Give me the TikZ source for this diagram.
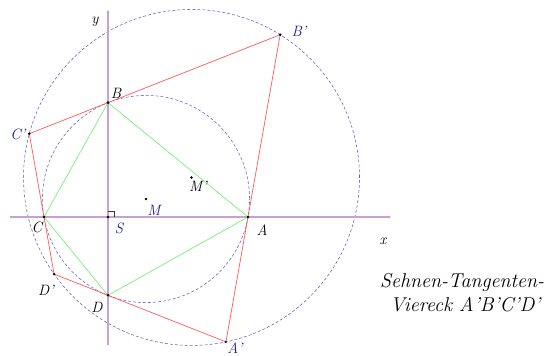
\documentclass[tikz,border=0pt]{standalone}
\usetikzlibrary{arrows.meta}
\definecolor{axcol}{HTML}{C8A0D2}
\definecolor{circcol}{HTML}{6464BE}
\definecolor{redl}{HTML}{FF5A5A}
\definecolor{greenl}{HTML}{78F078}
\definecolor{navyl}{HTML}{1C1C8C}
\tikzset{
  axis/.style={draw=axcol,line width=1.4pt,-{Stealth[length=3pt,width=3pt]}},
  circ/.style={draw=circcol,line width=0.55pt,dash pattern=on 3pt off 2pt},
  tang/.style={draw=redl,line width=0.7pt},
  chord/.style={draw=greenl,line width=0.7pt},
  pt/.style={circle,fill=#1,inner sep=0pt,minimum size=2.8pt},
  pt/.default=black,
  lbl/.style={font=\fontsize{15}{16}\selectfont\itshape,inner sep=0pt},
  title/.style={font=\fontsize{20}{22}\selectfont\itshape,inner sep=0pt,align=left}
}
\begin{document}
\begin{tikzpicture}[x=1pt,y=1pt]
\useasboundingbox (-108,-139) rectangle (452,217);
% points
\coordinate (S) at (0,0);
\coordinate (A) at (140,0);
\coordinate (B) at (0,114.35);
\coordinate (C) at (-64,0);
\coordinate (D) at (0,-78.35);
\coordinate (M) at (38,18);
\coordinate (Mp) at (83.52,39.55);
\coordinate (Ap) at (117.96,-124.88);
\coordinate (Bp) at (172.16,182.26);
\coordinate (Cp) at (-78.7,83.32);
\coordinate (Dp) at (-53.92,-57.09);
\coordinate (xs) at (-98,0);
\coordinate (xe) at (283,0);
\coordinate (ys) at (0,-128);
\coordinate (ye) at (0,207);
% circles
\draw[circ] (M) circle[radius=103.58];
\draw[circ] (Mp) circle[radius=168.0];
% axes
\draw[axis] (xs) -- (xe);
\draw[axis] (ys) -- (ye);
% right angle
\draw[black!80,line width=0.5pt] (0,6) -- (6,6) -- (6,0);
% quadrilaterals
\draw[chord] (A) -- (B) -- (C) -- (D) -- cycle;
\draw[tang] (Ap) -- (Bp) -- (Cp) -- (Dp) -- cycle;
% dots
\node[pt] (nS) at (S) {};
\node[pt] (nA) at (A) {};
\node[pt] (nB) at (B) {};
\node[pt] (nC) at (C) {};
\node[pt] (nD) at (D) {};
\node[pt] (nM) at (M) {};
\node[pt] (nMp) at (Mp) {};
\node[pt=navyl] (nAp) at (Ap) {};
\node[pt] (nBp) at (Bp) {};
\node[pt] (nCp) at (Cp) {};
\node[pt] (nDp) at (Dp) {};
% labels
\node[lbl] (ly) at (-13,195) {y};
\node[lbl] (lx) at (275,-24) {x};
\node[lbl] (lB) at (8,124) {B};
\node[lbl,text=navyl] (lBp) at (191,186) {B'};
\node[lbl,text=navyl] (lCp) at (-90,83) {C'};
\node[lbl] (lC) at (-71,-10) {C};
\node[lbl,text=navyl] (lS) at (11,-11) {S};
\node[lbl,text=navyl] (lM) at (46,7) {M};
\node[lbl] (lMp) at (90,31) {M'};
\node[lbl] (lA) at (154,-13) {A};
\node[lbl] (lDp) at (-62,-73) {D'};
\node[lbl] (lD) at (-11,-90) {D};
\node[lbl,text=navyl] (lAp) at (127,-131) {A'};
\node[title,anchor=west] (t1) at (272,-66) {Sehnen-Tangenten-};
\node[title,anchor=west] (t2) at (282,-88) {Viereck A'B'C'D'};
\end{tikzpicture}
\end{document}
